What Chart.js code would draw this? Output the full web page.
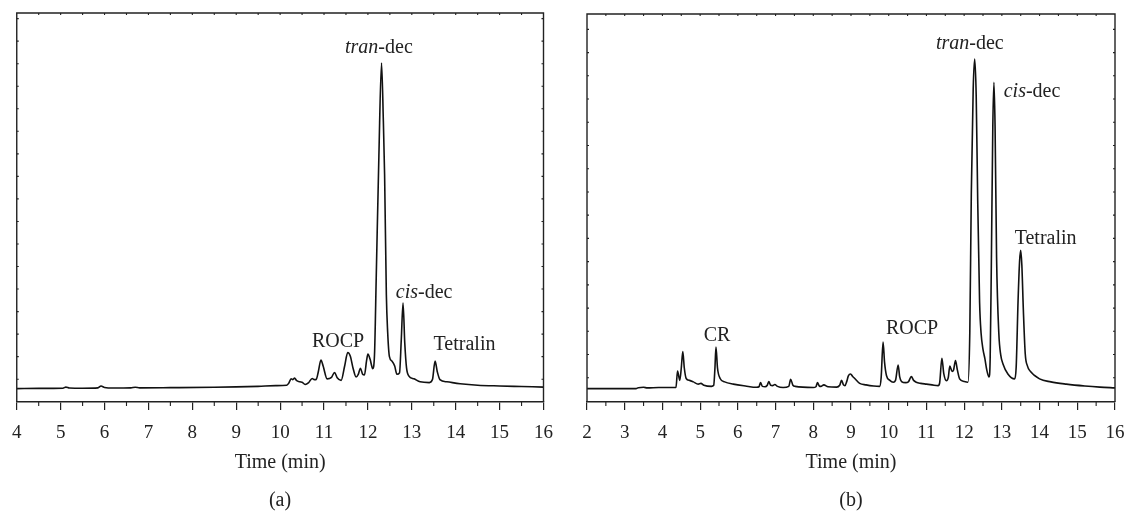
<!DOCTYPE html>
<html>
<head>
<meta charset="utf-8">
<script src="https://cdn.jsdelivr.net/npm/chart.js@4.4.1/dist/chart.umd.min.js"></script>
<style>
  html, body { margin: 0; padding: 0; background: #fff; overflow: hidden; }
  #wrap { position: relative; width: 1126px; height: 513px; overflow: hidden; }
  .panel { position: absolute; top: 0; height: 513px; }
  #panelA { left: 0; width: 565px; }
  #panelB { left: 565px; width: 572px; }
</style>
</head>
<body>
<div id="wrap">
  <div class="panel" id="panelA"><canvas id="chartA"></canvas></div>
  <div class="panel" id="panelB"><canvas id="chartB"></canvas></div>
</div>
<script>
var SERIF = '"Liberation Serif", "DejaVu Serif", serif';

// panel (a)
var timeA = [4.0, 4.5, 5.05, 5.12, 5.2, 5.5, 5.85, 5.92, 6.0, 6.2, 6.6, 6.7, 6.8, 7.5, 8.5, 9.0, 9.5, 9.9,
    10.15, 10.2, 10.25, 10.29, 10.33, 10.37, 10.45, 10.5, 10.57, 10.65, 10.73, 10.78, 10.82, 10.87, 10.93, 10.98,
    11.07, 11.17, 11.24, 11.3, 11.39, 11.47, 11.54, 11.6, 11.66, 11.73, 11.78, 11.83, 11.88, 11.92, 11.97,
    12.0, 12.05, 12.11, 12.15, 12.19, 12.25, 12.31, 12.35, 12.38, 12.42, 12.45, 12.49, 12.55, 12.61,
    12.66, 12.72, 12.76, 12.8, 12.84, 12.88, 12.93, 13.05, 13.19, 13.4, 13.47, 13.53, 13.58, 13.64, 13.8,
    14.1, 14.5, 15.0, 15.5, 16.0];
var signalA = [0.0, 0.05, 0.1, 0.4, 0.15, 0.1, 0.2, 0.7, 0.3, 0.15, 0.2, 0.35, 0.2, 0.25, 0.35, 0.45, 0.6, 0.8,
    0.9, 1.5, 2.6, 2.4, 2.8, 2.2, 1.8, 1.7, 1.1, 1.6, 2.7, 2.4, 2.4, 4.5, 7.6, 6.0,
    2.6, 3.0, 4.3, 2.9, 2.2, 6.0, 9.6, 8.6, 5.5, 3.1, 3.8, 5.4, 3.8, 3.6, 7.5,
    9.2, 7.8, 5.3, 9, 30, 62, 86.7, 72, 57, 25, 15, 8.5, 7.3, 6.0,
    3.8, 4.2, 13, 22.8, 12, 5.5, 3.4, 2.6, 1.8, 1.6, 2.4, 7.3, 4.5, 2.4, 1.8,
    1.3, 0.9, 0.7, 0.55, 0.4];
var xTicksA = [4, 5, 6, 7, 8, 9, 10, 11, 12, 13, 14, 15, 16];
var yTicksA = [2.5, 8.5, 14.5, 20.5, 26.5, 32.5, 38.5, 44.5, 50.5, 56.5, 62.5, 68.5, 74.5, 80.5, 86.5, 92.5, 98.5];
var labelTextA = [['tran', '-dec'], ['', 'ROCP'], ['cis', '-dec'], ['', 'Tetralin']];
var labelXA = [12.25, 11.32, 13.28, 14.2];
var labelYA = [89.3, 11.1, 24, 10.2];

// panel (b)
var timeB = [2.0, 3.3, 3.36, 3.5, 3.6, 3.9, 4.2, 4.36, 4.40, 4.46, 4.50, 4.54, 4.58, 4.63, 4.72, 4.82, 4.95,
    5.02, 5.1, 5.3, 5.36, 5.39, 5.42, 5.46, 5.53, 5.65, 5.88, 6.2, 6.5, 6.56, 6.6, 6.65, 6.72, 6.78, 6.82,
    6.87, 6.92, 6.98, 7.05, 7.2, 7.35, 7.4, 7.46, 7.52, 8.0, 8.07, 8.11, 8.16, 8.2, 8.28, 8.39, 8.62, 8.7,
    8.75, 8.8, 8.84, 8.89, 8.93, 8.99, 9.04, 9.1, 9.23, 9.4, 9.6, 9.76, 9.8, 9.85, 9.89, 9.94, 10.03, 10.12,
    10.18, 10.25, 10.29, 10.34, 10.45, 10.52, 10.6, 10.66, 10.73, 10.85, 11.0, 11.15, 11.31, 11.35, 11.41,
    11.46, 11.53, 11.58, 11.62, 11.68, 11.72, 11.77, 11.82, 11.88, 12.0, 12.1, 12.15, 12.19, 12.24, 12.28,
    12.32, 12.36, 12.41, 12.45, 12.5, 12.55, 12.6, 12.66, 12.69, 12.72, 12.76, 12.79, 12.82, 12.86, 12.92,
    12.97, 13.03, 13.16, 13.34, 13.38, 13.43, 13.47, 13.5, 13.53, 13.57, 13.62, 13.68, 13.74, 14.0, 14.3,
    14.71, 15.2, 15.6, 16.0];
var signalB = [0, 0, 0.25, 0.35, 0.2, 0.3, 0.3, 0.3, 4.7, 2.2, 5.5, 9.9, 5.5, 2.7, 2.2, 1.8, 1.2,
    1.4, 0.9, 0.6, 0.9, 5.0, 11.1, 5.5, 2.7, 1.8, 1.2, 0.7, 0.35, 0.5, 1.6, 0.6, 0.5, 0.9, 1.9,
    0.9, 0.8, 1.1, 0.6, 0.3, 0.6, 2.5, 0.9, 0.6, 0.3, 0.5, 1.6, 0.7, 0.6, 1.0, 0.5, 0.4, 0.9,
    2.2, 1.0, 0.8, 2.0, 3.4, 3.9, 3.3, 2.7, 1.4, 1.0, 0.7, 0.6, 3.0, 12.4, 7.0, 3.5, 2.2, 1.7,
    2.2, 6.3, 3.2, 1.9, 1.6, 1.8, 3.2, 2.2, 1.7, 1.4, 1.2, 1.0, 0.8, 1.5, 8.1,
    4.0, 2.1, 3.0, 6.0, 4.6, 5.0, 7.5, 5.0, 2.6, 1.9, 1.7, 15, 52, 80, 88,
    78, 50, 23, 14.7, 10.5, 8.0, 5.0, 3.1, 8, 32, 70, 81.8, 70, 35, 14.7,
    9.0, 6.6, 3.9, 2.6, 5.8, 23.5, 34, 36.9, 33, 21, 9.3, 6, 4.8, 2.6, 1.8,
    1.2, 0.7, 0.4, 0.2];
var xTicksB = [2, 3, 4, 5, 6, 7, 8, 9, 10, 11, 12, 13, 14, 15, 16];
var yTicksB = [2.9, 9.1, 15.3, 21.5, 27.7, 33.9, 40.1, 46.3, 52.5, 58.7, 64.9, 71.1, 77.3, 83.5, 89.7, 95.9];
var labelTextB = [['', 'CR'], ['', 'ROCP'], ['tran', '-dec'], ['cis', '-dec'], ['', 'Tetralin']];
var labelXB = [5.45, 10.62, 12.15, 13.8, 14.16];
var labelYB = [12.6, 14.7, 90.7, 77.8, 38.7];

// frame, small ticks and peak names
function framePlugin(yTicks, labelText, labelX, labelY) {
    return {
        id: 'frame',
        afterDraw: function(chart) {
            var ctx = chart.ctx, a = chart.chartArea;
            var x = chart.scales.x, y = chart.scales.y;
            ctx.save();
            ctx.strokeStyle = '#222';
            ctx.lineWidth = 1.4;
            ctx.beginPath();
            ctx.moveTo(a.left, a.bottom);
            ctx.lineTo(a.left, a.top);
            ctx.lineTo(a.right, a.top);
            ctx.lineTo(a.right, a.bottom);
            ctx.stroke();

            ctx.lineWidth = 1.1;
            ctx.beginPath();
            for (var t = x.min + 0.5; t < x.max; t += 1) {
                var px = x.getPixelForValue(t);
                ctx.moveTo(px, a.bottom);
                ctx.lineTo(px, a.bottom + 4);
            }
            for (var t2 = x.min + 0.5; t2 < x.max; t2 += 0.5) {
                var px2 = x.getPixelForValue(t2);
                ctx.moveTo(px2, a.top);
                ctx.lineTo(px2, a.top + 2);
            }
            yTicks.forEach(function(v) {
                var py = y.getPixelForValue(v);
                ctx.moveTo(a.left, py);
                ctx.lineTo(a.left + 2, py);
                ctx.moveTo(a.right - 2, py);
                ctx.lineTo(a.right, py);
            });
            ctx.stroke();

            ctx.fillStyle = '#222';
            ctx.textBaseline = 'alphabetic';
            ctx.textAlign = 'left';
            labelText.forEach(function(parts, i) {
                var cx = x.getPixelForValue(labelX[i]);
                var by = y.getPixelForValue(labelY[i]);
                ctx.font = 'italic 20px ' + SERIF;
                var w1 = ctx.measureText(parts[0]).width;
                ctx.font = '20px ' + SERIF;
                var w2 = ctx.measureText(parts[1]).width;
                var sx = cx - (w1 + w2) / 2;
                ctx.font = 'italic 20px ' + SERIF;
                ctx.fillText(parts[0], sx, by);
                ctx.font = '20px ' + SERIF;
                ctx.fillText(parts[1], sx + w1, by);
            });
            ctx.restore();
        }
    };
}

function makeChart(id, times, signal, xTicks, yTicks, labelText, labelX, labelY, panelName, pad) {
    var ctx = document.getElementById(id).getContext('2d');
    return new Chart(ctx, {
        type: 'line',
        data: {
            datasets: [{
                data: times.map(function(t, i) { return {x: t, y: signal[i]}; }),
                borderColor: '#111',
                borderWidth: 1.6,
                pointRadius: 0,
                cubicInterpolationMode: 'monotone',
                fill: false
            }]
        },
        options: {
            responsive: true,
            maintainAspectRatio: false,
            animation: false,
            layout: {
                padding: pad
            },
            scales: {
                x: {
                    type: 'linear',
                    min: xTicks[0],
                    max: xTicks[xTicks.length - 1],
                    afterBuildTicks: function(s) {
                        s.ticks = xTicks.map(function(v) { return {value: v}; });
                    },
                    afterFit: function(s) {
                        s.height = 73;
                    },
                    ticks: {
                        color: '#222',
                        font: {family: SERIF, size: 19},
                        padding: 12,
                        maxRotation: 0,
                        autoSkip: false
                    },
                    grid: {
                        drawOnChartArea: false,
                        drawTicks: true,
                        tickLength: 8,
                        color: '#222',
                        lineWidth: 1.2
                    },
                    border: {
                        display: true,
                        color: '#222',
                        width: 1.5
                    },
                    title: {
                        display: true,
                        text: 'Time (min)',
                        color: '#222',
                        font: {family: SERIF, size: 20},
                        padding: {top: 0, bottom: 0}
                    }
                },
                y: {
                    display: false,
                    min: -3.57,
                    max: 100
                }
            },
            plugins: {
                legend: {display: false},
                tooltip: {enabled: false},
                title: {
                    display: true,
                    text: panelName,
                    position: 'bottom',
                    color: '#222',
                    font: {family: SERIF, size: 20, weight: 'normal'},
                    padding: {top: 14, bottom: 0}
                }
            }
        },
        plugins: [framePlugin(yTicks, labelText, labelX, labelY)]
    });
}

makeChart('chartA', timeA, signalA, xTicksA, yTicksA, labelTextA, labelXA, labelYA, '(a)',
    {left: 16, right: 21, top: 13, bottom: 0});
makeChart('chartB', timeB, signalB, xTicksB, yTicksB, labelTextB, labelXB, labelYB, '(b)',
    {left: 22, right: 22, top: 14, bottom: 0});
</script>
</body>
</html>
